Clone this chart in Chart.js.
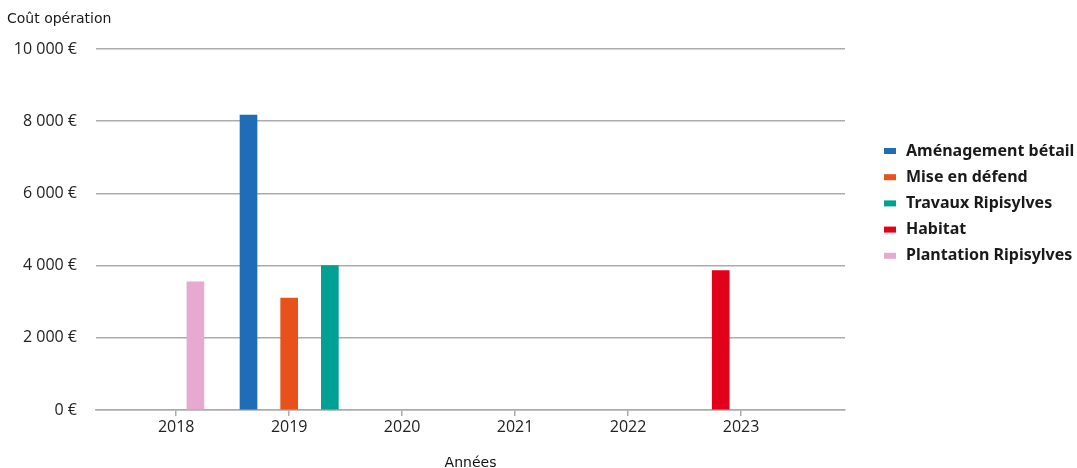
<!DOCTYPE html>
<html><head><meta charset="utf-8">
<script src="https://cdn.jsdelivr.net/npm/chart.js@4/dist/chart.umd.min.js"></script>
<style>html,body{margin:0;padding:0;background:#fff}#wrap{width:1077px;height:468px;position:relative}</style>
</head><body><div id="wrap"><canvas id="c"></canvas></div>
<script>
const seriesNames = ['Aménagement bétail', 'Mise en défend', 'Travaux Ripisylves', 'Habitat', 'Plantation Ripisylves'];
const seriesDates = [2018.64, 2019.0, 2019.36, 2022.82, 2018.17];
const seriesValues = [8170, 3100, 4000, 3860, 3550];
const yearTicks = [2018, 2019, 2020, 2021, 2022, 2023];
const yTicks = [0, 2000, 4000, 6000, 8000, 10000];
const seriesColors = ['#1f6db6', '#e8501c', '#00a095', '#e2001a', '#e6aad0'];
const gridColor = '#ababab';

function fmtEuro(v){ return String(v).replace(/\B(?=(\d{3})+(?!\d))/g, ' ') + ' €'; }

const datasets = seriesNames.map((n, i) => ({
  label: n,
  data: [{x: seriesDates[i], y: seriesValues[i]}],
  backgroundColor: seriesColors[i],
  barThickness: 17,
  grouped: false
}));

const extras = {
  id: 'extras',
  afterDraw(chart){
    const ctx = chart.ctx;
    ctx.save();
    ctx.fillStyle = '#1a1a1a';
    ctx.font = '14px "DejaVu Sans"';
    ctx.textBaseline = 'middle';
    ctx.textAlign = 'left';
    ctx.fillText('Coût opération', 7, 19);
    ctx.font = 'bold 16px "Noto Sans"';
    chart.data.datasets.forEach((d, i) => {
      const y = 151 + i * 26.2;
      ctx.fillStyle = d.backgroundColor;
      ctx.fillRect(884, y - 3, 12, 6);
      ctx.fillStyle = '#1a1a1a';
      ctx.fillText(d.label, 906, y);
    });
    ctx.restore();
  }
};

new Chart(document.getElementById('c'), {
  type: 'bar',
  data: { datasets },
  options: {
    responsive: true,
    maintainAspectRatio: false,
    animation: false,
    layout: { padding: { top: 49, right: 232, bottom: -2, left: 0 } },
    plugins: { legend: { display: false }, tooltip: { enabled: false } },
    scales: {
      x: {
        type: 'linear',
        offset: false,
        min: 2017.29,
        max: 2023.92,
        afterBuildTicks(s){ s.ticks = yearTicks.map(v => ({value: v})); },
        ticks: { callback: v => String(v), color: '#222', font: { family: 'Open Sans', size: 16 }, padding: 2, autoSkip: false, maxRotation: 0 },
        grid: { offset: false, drawOnChartArea: false, drawTicks: true, tickLength: 6, color: gridColor, lineWidth: 1.5 },
        border: { display: true, color: gridColor, width: 1.5 },
        title: { display: true, text: 'Années', color: '#111', font: { family: 'DejaVu Sans', size: 14 }, padding: { top: 16, bottom: -2 } }
      },
      y: {
        min: 0,
        max: 10000,
        afterBuildTicks(s){ s.ticks = yTicks.map(v => ({value: v})); },
        afterFit(s){ s.width = 96; },
        ticks: { callback: v => fmtEuro(v), color: '#222', font: { family: 'Open Sans', size: 16 }, padding: 19 },
        grid: { drawTicks: false, color: gridColor, lineWidth: 1.5 },
        border: { display: false }
      }
    }
  },
  plugins: [extras]
});
</script>
</body></html>
